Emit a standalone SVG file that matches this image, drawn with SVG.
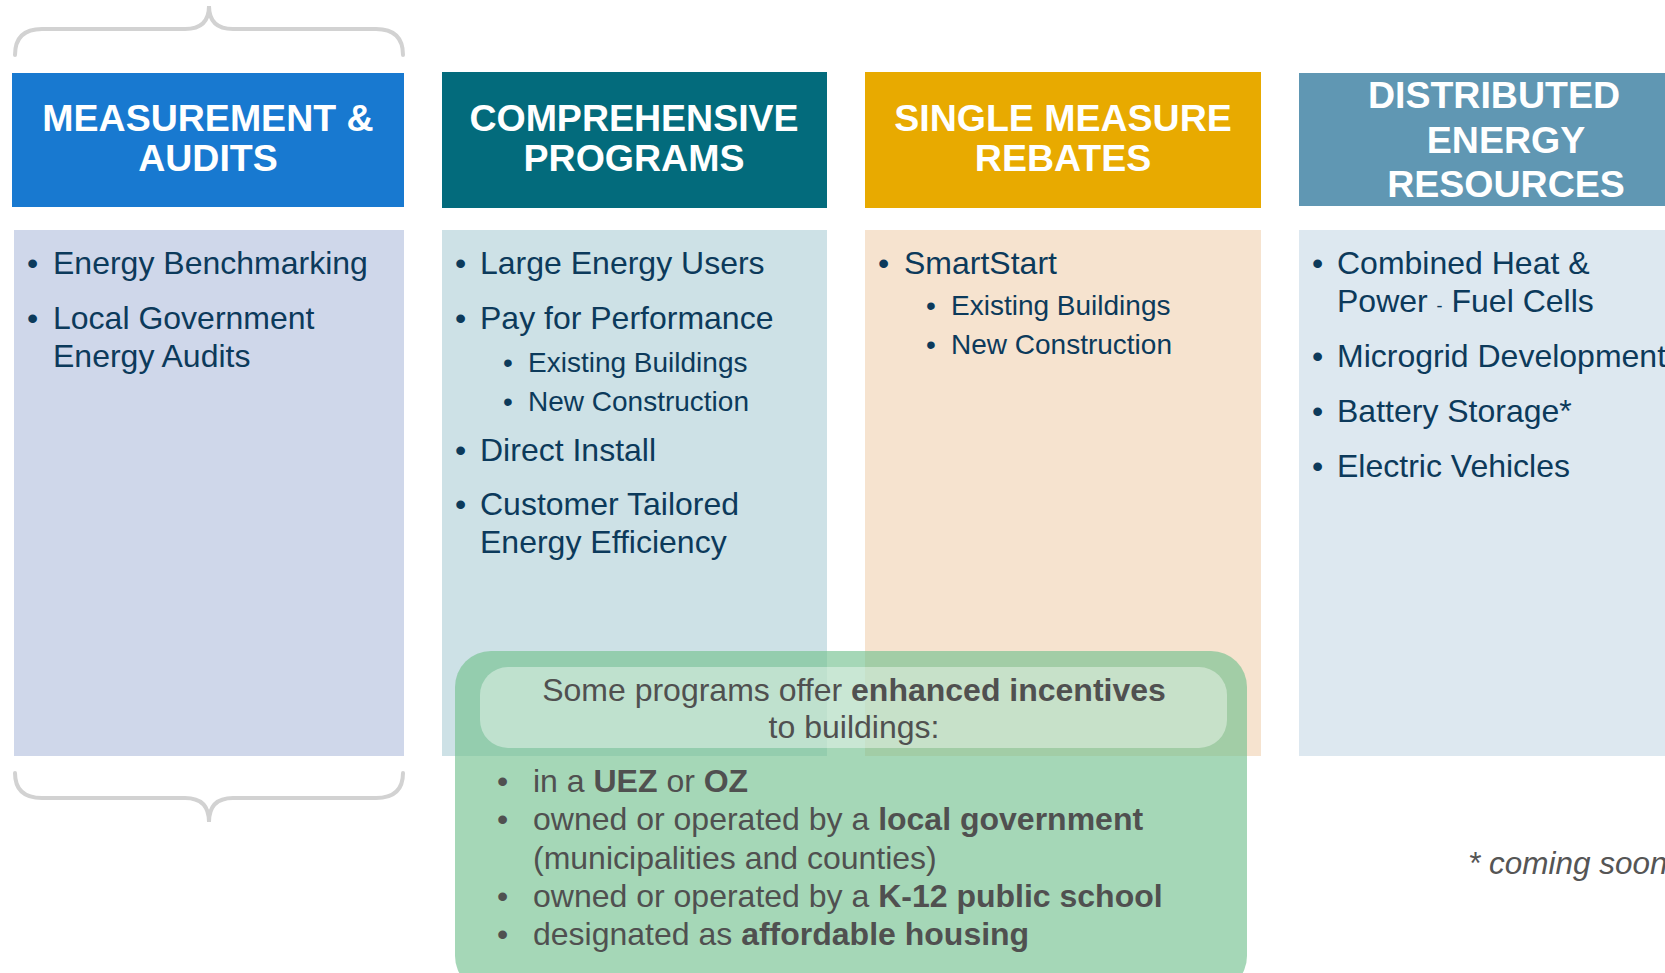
<svg xmlns="http://www.w3.org/2000/svg" width="1665" height="973" viewBox="0 0 1665 973">
<style>
.hd{font-family:"Liberation Sans",Arial,sans-serif;font-weight:bold;font-size:37.5px;fill:#ffffff;text-anchor:middle}
.bt{font-family:"Liberation Sans",Arial,sans-serif;font-size:32px;fill:#0c3a5b}
.st{font-family:"Liberation Sans",Arial,sans-serif;font-size:28px;fill:#0c3a5b}
.gt{font-family:"Liberation Sans",Arial,sans-serif;font-size:32px;fill:#505050}
.b{font-weight:bold}
.brace{fill:none;stroke:#d2d2d2;stroke-width:4;stroke-linecap:round}
</style>
<rect width="1665" height="973" fill="#ffffff"/>
<g id="braces">
<path class="brace" d="M15,55 Q15,29 42,29 L185,29 Q209,29 209,6 Q209,29 233,29 L376,29 Q403,29 403,55"/>
<path class="brace" d="M15,773 Q15,798 42,798 L185,798 Q209,798 209,822 Q209,798 233,798 L376,798 Q403,798 403,773"/>
</g>
<g id="measurement">
<rect x="12" y="73" width="392" height="134" fill="#1879d0"/>
<text class="hd" x="208" y="131">MEASUREMENT &amp;</text>
<text class="hd" x="208" y="171">AUDITS</text>
<rect x="14" y="230" width="390" height="526" fill="#cfd7ea"/>
<text class="bt" x="27" y="274">•</text><text class="bt" x="53" y="274">Energy Benchmarking</text>
<text class="bt" x="27" y="329">•</text><text class="bt" x="53" y="329">Local Government</text>
<text class="bt" x="53" y="367">Energy Audits</text>
</g>
<g id="comprehensive">
<rect x="442" y="72" width="385" height="136" fill="#036b7c"/>
<text class="hd" x="634" y="131">COMPREHENSIVE</text>
<text class="hd" x="634" y="171">PROGRAMS</text>
<rect x="442" y="230" width="385" height="526" fill="#cde1e6"/>
<text class="bt" x="455" y="274">•</text><text class="bt" x="480" y="274">Large Energy Users</text>
<text class="bt" x="455" y="329">•</text><text class="bt" x="480" y="329">Pay for Performance</text>
<text class="st" x="503" y="372">•</text><text class="st" x="528" y="372">Existing Buildings</text>
<text class="st" x="503" y="411">•</text><text class="st" x="528" y="411">New Construction</text>
<text class="bt" x="455" y="461">•</text><text class="bt" x="480" y="461">Direct Install</text>
<text class="bt" x="455" y="515">•</text><text class="bt" x="480" y="515">Customer Tailored</text>
<text class="bt" x="480" y="553">Energy Efficiency</text>
</g>
<g id="single-measure">
<rect x="865" y="72" width="396" height="136" fill="#e8aa00"/>
<text class="hd" x="1063" y="131">SINGLE MEASURE</text>
<text class="hd" x="1063" y="171">REBATES</text>
<rect x="865" y="230" width="396" height="526" fill="#f6e3cf"/>
<text class="bt" x="878" y="274">•</text><text class="bt" x="904" y="274">SmartStart</text>
<text class="st" x="926" y="315">•</text><text class="st" x="951" y="315">Existing Buildings</text>
<text class="st" x="926" y="354">•</text><text class="st" x="951" y="354">New Construction</text>
</g>
<g id="der">
<rect x="1299" y="73" width="366" height="133" fill="#6097b3"/>
<text class="hd" x="1494" y="108">DISTRIBUTED</text>
<text class="hd" x="1506" y="153">ENERGY</text>
<text class="hd" x="1506" y="197">RESOURCES</text>
<rect x="1299" y="230" width="366" height="526" fill="#dde8f0"/>
<text class="bt" x="1312" y="274">•</text><text class="bt" x="1337" y="274">Combined Heat &amp;</text>
<text class="bt" x="1337" y="312">Power <tspan font-size="18">-</tspan> Fuel Cells</text>
<text class="bt" x="1312" y="367">•</text><text class="bt" x="1337" y="367">Microgrid Development</text>
<text class="bt" x="1312" y="422">•</text><text class="bt" x="1337" y="422">Battery Storage*</text>
<text class="bt" x="1312" y="477">•</text><text class="bt" x="1337" y="477">Electric Vehicles</text>
</g>
<g id="enhanced-incentives">
<rect x="455" y="651" width="792" height="341" rx="36" fill="rgb(117,193,144)" fill-opacity="0.65"/>
<rect x="480" y="667" width="747" height="81" rx="28" fill="#ffffff" fill-opacity="0.4"/>
<text class="gt" x="854" y="701" text-anchor="middle">Some programs offer <tspan class="b">enhanced incentives</tspan></text>
<text class="gt" x="854" y="738" text-anchor="middle">to buildings:</text>
<text class="gt" x="497" y="792">•</text><text class="gt" x="533" y="792">in a <tspan class="b">UEZ</tspan> or <tspan class="b">OZ</tspan></text>
<text class="gt" x="497" y="830">•</text><text class="gt" x="533" y="830">owned or operated by a <tspan class="b">local government</tspan></text>
<text class="gt" x="533" y="869">(municipalities and counties)</text>
<text class="gt" x="497" y="907">•</text><text class="gt" x="533" y="907">owned or operated by a <tspan class="b">K-12 public school</tspan></text>
<text class="gt" x="497" y="945">•</text><text class="gt" x="533" y="945">designated as <tspan class="b">affordable housing</tspan></text>
</g>
<text x="1468" y="874" font-family="'Liberation Sans',Arial,sans-serif" font-size="31.5" font-style="italic" fill="#555555">* coming soon</text>
</svg>
